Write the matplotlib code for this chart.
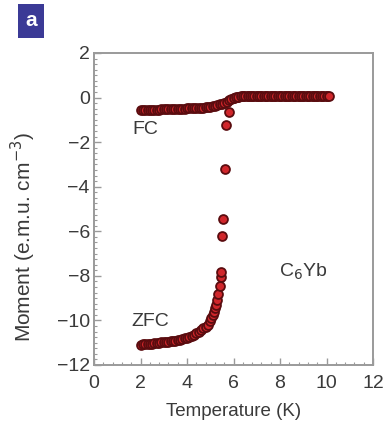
import matplotlib
matplotlib.use("Agg")
import matplotlib.pyplot as plt
from matplotlib.ticker import MultipleLocator

plt.rcParams['font.family'] = ['Liberation Sans', 'DejaVu Sans']

# Field-cooled magnetisation
fc_temp = [2.0, 2.1, 2.2, 2.3, 2.4, 2.5, 2.6, 2.7, 2.8, 2.9,
           3.0, 3.1, 3.2, 3.3, 3.4, 3.5, 3.6, 3.7, 3.8, 3.9,
           4.0, 4.1, 4.2, 4.3, 4.4, 4.5, 4.6, 4.7, 4.8, 4.9,
           5.0, 5.1, 5.2, 5.3, 5.4, 5.5, 5.6, 5.7, 5.8, 5.9,
           6.0, 6.1, 6.2, 6.3, 6.4, 6.5, 6.6, 6.7, 6.8, 6.9,
           7.0, 7.1, 7.2, 7.3, 7.4, 7.5, 7.6, 7.7, 7.8, 7.9,
           8.0, 8.1, 8.2, 8.3, 8.4, 8.5, 8.6, 8.7, 8.8, 8.9,
           9.0, 9.1, 9.2, 9.3, 9.4, 9.5, 9.6, 9.7, 9.8, 9.9,
           10.0, 10.1]
fc_moment = [-0.56, -0.56, -0.56, -0.55, -0.55, -0.55, -0.54, -0.54, -0.54, -0.53,
             -0.53, -0.53, -0.52, -0.52, -0.52, -0.51, -0.51, -0.51, -0.50, -0.50,
             -0.49, -0.49, -0.48, -0.48, -0.47, -0.46, -0.46, -0.45, -0.44, -0.43,
             -0.41, -0.39, -0.37, -0.34, -0.31, -0.28, -0.23, -0.18, -0.12, -0.06,
             -0.01, 0.03, 0.04, 0.05, 0.05, 0.05, 0.05, 0.05, 0.05, 0.05,
             0.05, 0.05, 0.05, 0.05, 0.05, 0.05, 0.05, 0.05, 0.05, 0.05,
             0.05, 0.05, 0.05, 0.05, 0.05, 0.05, 0.05, 0.05, 0.05, 0.05,
             0.05, 0.05, 0.05, 0.05, 0.05, 0.05, 0.05, 0.05, 0.05, 0.05,
             0.05, 0.05]

# Zero-field-cooled magnetisation
zfc_temp = [2.00, 2.10, 2.20, 2.30, 2.40, 2.50, 2.60, 2.70, 2.80, 2.90,
            3.00, 3.10, 3.20, 3.30, 3.40, 3.50, 3.60, 3.70, 3.80, 3.90,
            4.00, 4.10, 4.20, 4.30, 4.40, 4.50, 4.60, 4.70, 4.80, 4.90,
            5.00, 5.05, 5.10, 5.15, 5.20, 5.25, 5.30, 5.35, 5.40, 5.45,
            5.47, 5.52, 5.56, 5.63, 5.68, 5.82, 6.00, 6.20, 6.40, 6.60,
            6.80, 7.00, 7.20, 7.40, 7.60, 7.80, 8.00, 8.20, 8.40, 8.60,
            8.80, 9.00, 9.20, 9.40, 9.60, 9.80, 10.00]
zfc_moment = [-11.09, -11.08, -11.07, -11.06, -11.05, -11.04, -11.03, -11.02, -11.01, -10.99,
              -10.98, -10.97, -10.95, -10.94, -10.93, -10.91, -10.88, -10.86, -10.83, -10.80,
              -10.77, -10.73, -10.69, -10.64, -10.58, -10.51, -10.43, -10.36, -10.28, -10.20,
              -10.02, -9.90, -9.76, -9.60, -9.45, -9.30, -9.10, -8.80, -8.45, -8.05,
              -7.81, -6.20, -5.46, -3.20, -1.23, -0.63, -0.01, 0.04, 0.05, 0.05,
              0.05, 0.05, 0.05, 0.05, 0.05, 0.05, 0.05, 0.05, 0.05, 0.05,
              0.05, 0.05, 0.05, 0.05, 0.05, 0.05, 0.05]

x_ticks = [0, 2, 4, 6, 8, 10, 12]
y_ticks = [2, 0, -2, -4, -6, -8, -10, -12]

text_color = '#3a3a3a'
spine_color = '#9a9a9a'

fig = plt.figure(figsize=(3.87, 4.26), dpi=100)
ax = fig.add_axes([0.243, 0.1432, 0.721, 0.7324])

marker_style = dict(linestyle='none', marker='o', markersize=6.4,
                    markerfacecolor='#d0262b', markeredgecolor='#5a0c0f',
                    markeredgewidth=1.3)
ax.plot(zfc_temp, zfc_moment, **marker_style)
ax.plot(fc_temp, fc_moment, **marker_style)

ax.set_xlim(0, 12)
ax.set_ylim(-12, 2)
ax.set_xticks(x_ticks)
ax.set_yticks(y_ticks)
ax.set_yticklabels([str(v).replace('-', '\u2212') for v in y_ticks])
ax.xaxis.set_minor_locator(MultipleLocator(0.4))
ax.yaxis.set_minor_locator(MultipleLocator(0.25))

for s in ax.spines.values():
    s.set_color(spine_color)
    s.set_linewidth(1.4)

ax.tick_params(which='both', direction='in', color=spine_color,
               top=False, right=False)
ax.tick_params(which='major', length=5, width=1.0, labelsize=14,
               labelcolor=text_color)
ax.tick_params(axis='x', which='major', pad=7)
ax.tick_params(axis='y', which='major', pad=3)
ax.tick_params(which='minor', length=2, width=0.8)

ax.set_xlabel('Temperature (K)', fontsize=13.5, color=text_color, labelpad=8)
ax.set_ylabel('Moment (e.m.u. cm$^{\u22123}$)', fontsize=15, color=text_color)
ax.yaxis.set_label_coords(-0.20, 0.41)

ax.text(2.2, -1.45, 'FC', fontsize=14, color=text_color, ha='center', va='center')
ax.text(2.4, -10.06, 'ZFC', fontsize=14, color=text_color, ha='center', va='center')
ax.text(9.0, -7.82, 'C$_6$Yb', fontsize=14, color=text_color, ha='center', va='center')

fig.text(0.080, 0.951, 'a', fontsize=15, fontweight='bold', color='white',
         ha='center', va='center',
         bbox=dict(boxstyle='square,pad=0.35', facecolor='#3b3a96', edgecolor='none'))

fig.savefig('out.png', dpi=100, facecolor='white')
